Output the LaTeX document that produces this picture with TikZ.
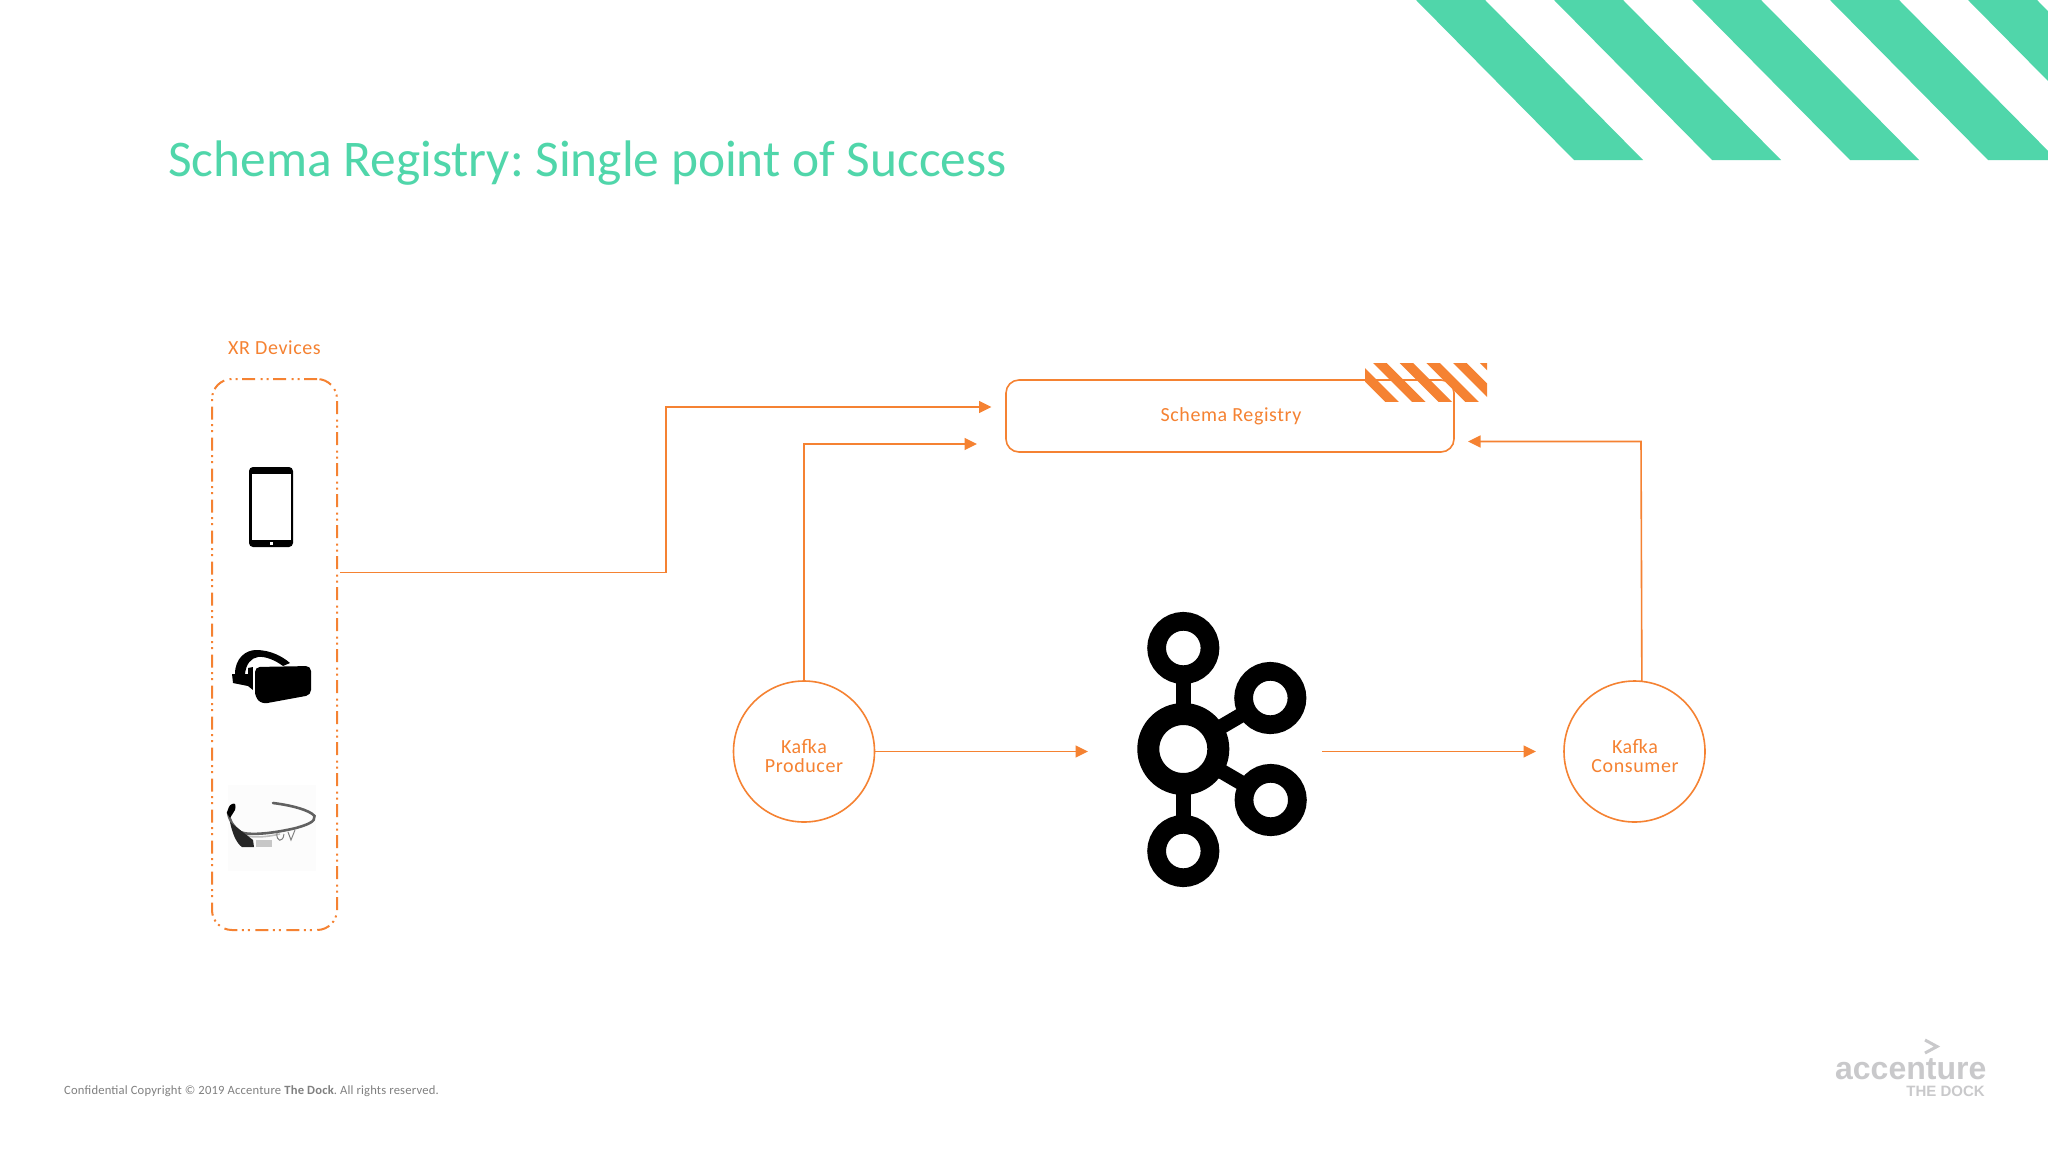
\documentclass[tikz,border=0pt]{standalone}
\usepackage{fontspec}
\setmainfont{Carlito}
\newfontfamily\logofont{Liberation Sans}
\usetikzlibrary{arrows.meta}
\definecolor{mint}{HTML}{50D6AA}
\definecolor{accentorange}{HTML}{F58232}
\definecolor{footgrey}{HTML}{808080}
\definecolor{logogrey}{HTML}{C9C9CB}
\frenchspacing
\tikzset{
  label text/.style={text=accentorange,font=\fontsize{20}{20}\selectfont\addfontfeatures{LetterSpace=3},inner sep=0pt,align=center},
  flow/.style={draw=accentorange,line width=1.6pt,-{Triangle[length=12.5pt,width=12pt]}},
  roundbox/.style={draw=accentorange,line width=1.6pt,rounded corners=13pt,minimum width=448pt,minimum height=72pt,inner sep=0pt,outer sep=0pt},
  devbox/.style={draw=accentorange,line width=2pt,rounded corners=20pt,minimum width=125pt,minimum height=551pt,inner sep=0pt,outer sep=0pt,
    dash pattern=on 13pt off 4.5pt on 2pt off 4pt on 2pt off 5.5pt},
  kcircle/.style={circle,draw=accentorange,line width=1.6pt,minimum size=141pt,inner sep=0pt,outer sep=0pt},
  kring/.style={line width=18.7pt,draw=black,fill=white},
  kbar/.style={line width=15pt,draw=black},
  hatch/.style={fill=accentorange},
  band/.style={fill=mint},
}
\begin{document}
\begin{tikzpicture}[x=1pt,y=-1pt]
\useasboundingbox (0,0) rectangle (2048,1152);
\fill[white] (0,0) rectangle (2048,1152);
% corner bands
\begin{scope}
\clip (0,0) rectangle (2048,160);
\foreach \s in {1416,1554,1692,1830,1968}
  \fill[band] (\s,0) -- (\s+69,0) -- (\s+69+158,160) -- (\s+158,160) -- cycle;
\end{scope}
% title
\node[anchor=base west,inner sep=0pt,text=mint,font=\fontsize{51.4}{51.4}\selectfont] (title) at (168,176) {Schema Registry: Single point of Success};
% device box
\node[label text] (xrlabel) at (274.5,348) {XR Devices};
\node[devbox] (xr) at (274.5,654.5) {};
% tablet
\fill[black,rounded corners=4pt] (249,467) rectangle (293,547);
\fill[white] (252,474) rectangle (291,540);
\fill[white] (269.5,542) rectangle (272.5,545);
% headset
\fill[black] (235,674) .. controls (235,658) and (246,650) .. (256,650) .. controls (270,650) and (282,656) .. (290,663) -- (283,666) .. controls (275,660) and (265,656) .. (258,657) .. controls (251,658) and (246,664) .. (245,674) -- cycle;
\fill[black] (232,674) -- (248,674) -- (248,668) -- (253,667) -- (253,690) -- (248,686) -- (233,683) -- cycle;
\fill[white] (252.5,667) -- (254.5,667) -- (254.5,692) -- (252.5,692) -- cycle;
\fill[black,rounded corners=5pt] (255,667) -- (311,666) -- (311,695) -- (262,704) -- (255,697) -- cycle;
% glasses
\fill[black!1!white] (228,785) rectangle (316,871);
\draw[black!62,line width=2.6pt,line cap=round] (273,803) .. controls (290,805) and (310,810) .. (314.5,816) .. controls (316,822) and (306,825) .. (296,828) .. controls (275,833) and (250,836) .. (240,832) .. controls (233,826) and (229,820) .. (228,812);
\draw[black!25,line width=1.6pt] (233,826) .. controls (240,840) and (262,838) .. (280,834);
\fill[black] (232,804) .. controls (236,802) and (236,806) .. (235,810) -- (230,818) -- (227,813) .. controls (228,809) and (229,805) .. (232,804) -- cycle;
\fill[black!85] (230,822) -- (253,840) -- (254,847) -- (242,847) .. controls (236,843) and (232,832) .. (230,822) -- cycle;
\fill[black!22] (256,840) rectangle (272,847);
\draw[black!50,line width=1pt] (277,833) .. controls (276,842) and (283,843) .. (284,834);
\draw[black!50,line width=1pt] (288,832) -- (291,840) -- (295,830);
% registry
\node[roundbox] (registry) at (1230,416) {};
\node[label text] (registrytext) at (1231,416) {Schema Registry};
\begin{scope}
\clip (1365,363) rectangle (1487,401);
\foreach \s in {1346.3,1373,1399.7,1426.4,1453.1,1479.8}
  \fill[hatch] (\s,363) -- (\s+13.5,363) -- (\s+13.5+39,402) -- (\s+39,402) -- cycle;
\end{scope}
% kafka circles
\node[kcircle] (producer) at (804,751.5) {};
\node[label text] (producertext) at (804,756) {Kafka\\[-1pt]Producer};
\node[kcircle] (consumer) at (1634.5,751.5) {};
\node[label text] (consumertext) at (1635,756) {Kafka\\[-1pt]Consumer};
% kafka logo
\coordinate (ktop) at (1183.3,648);
\coordinate (kmid) at (1183.3,749);
\coordinate (kbot) at (1183.3,851);
\coordinate (kru) at (1270.3,698);
\coordinate (krd) at (1270.7,800);
\draw[kbar] (ktop) -- (kbot);
\draw[kbar] (kmid) -- (kru);
\draw[kbar] (kmid) -- (krd);
\draw[kring] (ktop) circle (26.7);
\draw[kring] (kbot) circle (26.7);
\draw[kring] (kru) circle (26.7);
\draw[kring] (krd) circle (26.7);
\draw[black,line width=22pt,fill=white] (kmid) circle (35);
% connectors
\coordinate (a0) at (340,572.5);
\coordinate (a1) at (666,572.5);
\coordinate (a2) at (666,407);
\coordinate (a3) at (991.5,407);
\draw[flow] (a0) -- (a1) -- (a2) -- (a3);
\coordinate (b1) at (804,444);
\coordinate (b2) at (977,444);
\draw[flow] (producer.north) -- (b1) -- (b2);
\coordinate (c1) at (1088,751.5);
\draw[flow] (producer.east) -- (c1);
\coordinate (d0) at (1322,751.5);
\coordinate (d1) at (1536,751.5);
\draw[flow] (d0) -- (d1);
\coordinate (e1) at (1641,441.5);
\coordinate (e2) at (1468,441.5);
\draw[flow] (consumer.84) -- (e1) -- (e2);
% footer
\node[anchor=base west,inner sep=0pt,text=footgrey,font=\fontsize{12.6}{12.6}\selectfont\addfontfeatures{LetterSpace=1.5}] (footer) at (64,1094) {Confidential Copyright © 2019 Accenture \textbf{The Dock}. All rights reserved.};
% corporate logo
\draw[logogrey,line width=3pt,miter limit=10] (1925,1040) -- (1937,1046.5) -- (1925,1053);
\node[anchor=base east,inner sep=0pt,text=logogrey,font=\logofont\bfseries\fontsize{32}{32}\selectfont] (accenture) at (1986.5,1079) {accenture};
\node[anchor=base east,inner sep=0pt,text=logogrey,font=\logofont\bfseries\fontsize{15}{15}\selectfont] (dock) at (1985,1096) {THE DOCK};
\end{tikzpicture}
\end{document}
